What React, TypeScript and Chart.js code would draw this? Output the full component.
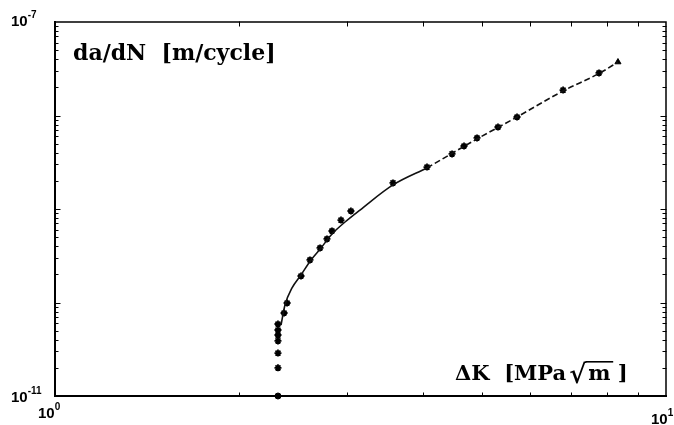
import React, { useEffect, useRef } from "react";
import { Chart, registerables } from "chart.js";

Chart.register(...registerables);

// Measured data (ΔK in MPa√m, da/dN in m/cycle)
const dataK = [2.317, 2.317, 2.317, 2.317, 2.317, 2.317, 2.371, 2.398, 2.527, 2.614, 2.715, 2.787, 2.84, 2.938, 3.05, 3.574, 4.063, 4.465, 4.671, 4.906, 5.309, 5.704, 6.785, 7.769];
const dataRate = [2.0e-11, 2.88e-11, 3.88e-11, 4.49e-11, 5.08e-11, 5.89e-11, 7.72e-11, 9.88e-11, 1.92e-10, 2.85e-10, 3.83e-10, 4.78e-10, 5.82e-10, 7.62e-10, 9.52e-10, 1.9e-9, 2.81e-9, 3.88e-9, 4.72e-9, 5.75e-9, 7.53e-9, 9.64e-9, 1.87e-8, 2.85e-8];

const lastK = [8.344];
const lastRate = [3.73e-8];

const thresholdK = [2.317];
const thresholdRate = [1e-11];

// Fitted curve
const fitSolidK = [2.344, 2.379, 2.443, 2.527, 2.624, 2.725, 2.84, 2.983, 3.156, 3.574, 4.063];
const fitSolidRate = [5.74e-11, 9.4e-11, 1.43e-10, 1.97e-10, 2.85e-10, 3.83e-10, 5.4e-10, 7.26e-10, 9.75e-10, 1.81e-9, 2.75e-9];
const fitDashK = [4.063, 4.906, 5.704, 6.785, 7.798, 8.344];
const fitDashRate = [2.75e-9, 5.61e-9, 9.64e-9, 1.83e-8, 2.85e-8, 3.73e-8];

const xMin = 1;
const xMax = 10;
const yMin = 1e-11;
const yMax = 1e-7;

const yTickLabels = [
  { base: "10", exp: "-7", value: 1e-7 },
  { base: "10", exp: "-11", value: 1e-11 },
];
const xTickLabels = [
  { base: "10", exp: "0", value: 1 },
  { base: "10", exp: "1", value: 10 },
];

const yTitle = "da/dN  [m/cycle]";
const xTitleA = "ΔK  [MPa";
const xTitleRoot = "√";
const xTitleRad = "m";
const xTitlePost = " ]";

const zip = (xs: number[], ys: number[]) => xs.map((x, i) => ({ x, y: ys[i] }));

const framePlugin = {
  id: "frame",
  afterDraw(chart: any) {
    const { ctx, chartArea, scales } = chart;
    const xs = scales.x;
    const ys = scales.y;
    const { left, right, top, bottom } = chartArea;
    ctx.save();
    ctx.strokeStyle = "#000";
    ctx.lineCap = "square";
    // frame
    ctx.lineWidth = 2;
    ctx.beginPath();
    ctx.moveTo(left, top);
    ctx.lineTo(left, bottom);
    ctx.lineTo(right, bottom);
    ctx.stroke();
    ctx.lineWidth = 1.5;
    ctx.beginPath();
    ctx.moveTo(left, top);
    ctx.lineTo(right, top);
    ctx.lineTo(right, bottom);
    ctx.stroke();
    // y ticks (inside)
    ctx.lineWidth = 1;
    for (let d = -11; d < -7; d++) {
      for (let m = 1; m <= 9; m++) {
        const y = Math.round(ys.getPixelForValue(m * Math.pow(10, d))) + 0.5;
        const len = m === 1 ? 5 : 3;
        ctx.beginPath();
        ctx.moveTo(left, y);
        ctx.lineTo(left + len, y);
        ctx.moveTo(right, y);
        ctx.lineTo(right - len, y);
        ctx.stroke();
      }
    }
    // x ticks (inside)
    for (let m = 2; m <= 9; m++) {
      const x = Math.round(xs.getPixelForValue(m)) + 0.5;
      ctx.beginPath();
      ctx.moveTo(x, bottom);
      ctx.lineTo(x, bottom - 3);
      ctx.moveTo(x, top);
      ctx.lineTo(x, top + 4);
      ctx.stroke();
    }
    // tick labels
    ctx.fillStyle = "#000";
    ctx.textBaseline = "alphabetic";
    ctx.textAlign = "left";
    const baseFont = "bold 15px 'Liberation Sans', Arial, sans-serif";
    const expFont = "bold 10px 'Liberation Sans', Arial, sans-serif";
    const drawPow = (base: string, exp: string, x: number, y: number) => {
      ctx.font = baseFont;
      const wb = ctx.measureText(base).width;
      ctx.fillText(base, x, y);
      ctx.font = expFont;
      ctx.fillText(exp, x + wb, y - 8);
    };
    const yTop = ys.getPixelForValue(yTickLabels[0].value);
    const yBot = ys.getPixelForValue(yTickLabels[1].value);
    drawPow(yTickLabels[0].base, yTickLabels[0].exp, 11, yTop + 4);
    drawPow(yTickLabels[1].base, yTickLabels[1].exp, 11, yBot + 6);
    const x0 = xs.getPixelForValue(xTickLabels[0].value);
    const x1 = xs.getPixelForValue(xTickLabels[1].value);
    drawPow(xTickLabels[0].base, xTickLabels[0].exp, x0 - 17, bottom + 22);
    drawPow(xTickLabels[1].base, xTickLabels[1].exp, x1 - 15, bottom + 28);

    // y title
    ctx.font = "bold 22px 'DejaVu Serif', serif";
    ctx.fillText(yTitle, left + 18, top + 38);

    // x title
    const ty = bottom - 16;
    const f = "bold 21px 'DejaVu Serif', serif";
    ctx.font = f;
    let tx = left + 400;
    ctx.fillText(xTitleA, tx, ty);
    tx += ctx.measureText(xTitleA).width + 3;
    ctx.font = "bold 26px 'DejaVu Serif', serif";
    const rm = ctx.measureText(xTitleRoot);
    ctx.fillText(xTitleRoot, tx, ty + 3);
    const rootTop = ty + 3 - rm.actualBoundingBoxAscent;
    tx += rm.actualBoundingBoxRight;
    ctx.font = f;
    const mw = ctx.measureText(xTitleRad).width;
    ctx.fillText(xTitleRad, tx + 1, ty);
    ctx.lineWidth = 1.6;
    ctx.beginPath();
    ctx.moveTo(tx - 1, rootTop + 0.8);
    ctx.lineTo(tx + mw + 3, rootTop + 0.8);
    ctx.stroke();
    tx += mw + 1;
    ctx.fillText(xTitlePost, tx, ty);
    ctx.restore();
  },
};

export default function App() {
  const ref = useRef<HTMLCanvasElement | null>(null);
  useEffect(() => {
    if (!ref.current) return;
    const chart = new Chart(ref.current, {
      type: "scatter",
      data: {
        datasets: [
          {
            type: "line",
            data: zip(fitSolidK, fitSolidRate),
            borderColor: "#111",
            borderWidth: 1.6,
            pointRadius: 0,
            cubicInterpolationMode: "monotone",
            fill: false,
          } as any,
          {
            type: "line",
            data: zip(fitDashK, fitDashRate),
            borderColor: "#111",
            borderWidth: 1.6,
            borderDash: [6, 3],
            pointRadius: 0,
            cubicInterpolationMode: "monotone",
            fill: false,
          } as any,
          {
            data: zip(dataK, dataRate),
            pointStyle: "star",
            pointRadius: 3.5,
            borderWidth: 1.8,
            borderColor: "#000",
            backgroundColor: "#000",
          },
          {
            data: zip(lastK, lastRate),
            pointStyle: "triangle",
            pointRadius: 3.5,
            borderWidth: 1,
            borderColor: "#000",
            backgroundColor: "#000",
          },
          {
            data: zip(thresholdK, thresholdRate),
            pointStyle: "circle",
            pointRadius: 3,
            borderWidth: 1,
            borderColor: "#000",
            backgroundColor: "#000",
            clip: false,
          } as any,
        ],
      },
      options: {
        animation: false,
        responsive: true,
        maintainAspectRatio: false,
        layout: { padding: { left: 55, right: 8, top: 22, bottom: 29 } },
        plugins: { legend: { display: false }, tooltip: { enabled: false } },
        scales: {
          x: { type: "logarithmic", min: xMin, max: xMax, display: false },
          y: { type: "logarithmic", min: yMin, max: yMax, display: false },
        },
      },
      plugins: [framePlugin],
    });
    return () => chart.destroy();
  }, []);
  return (
    <div style={{ position: "fixed", left: 0, top: 0, width: 674, height: 425, background: "#fff" }}>
      <canvas ref={ref} />
    </div>
  );
}
